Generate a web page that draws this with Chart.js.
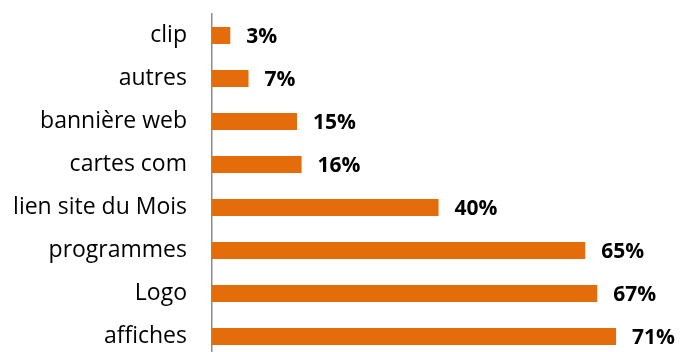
<!DOCTYPE html>
<html>
<head>
<meta charset="utf-8">
<script src="https://cdn.jsdelivr.net/npm/chart.js@4/dist/chart.umd.min.js"></script>
<style>
html,body{margin:0;padding:0;background:#fff;overflow:hidden;width:682px;height:352px;}
canvas{display:block;}
</style>
</head>
<body>
<canvas id="c" width="682" height="358" style="width:682px;height:358px;"></canvas>
<script>
const categories = ["clip", "autres", "bannière web", "cartes com", "lien site du Mois", "programmes", "Logo", "affiches"];
const values = [3.2, 6.4, 14.9, 15.7, 39.7, 65.4, 67.5, 70.8];
const valueLabels = ["3%", "7%", "15%", "16%", "40%", "65%", "67%", "71%"];

const labelPlugin = {
  id: 'valueLabels',
  afterDatasetsDraw(chart) {
    const ctx = chart.ctx;
    const meta = chart.getDatasetMeta(0);
    ctx.save();
    ctx.font = 'bold 21px "Open Sans"';
    ctx.fillStyle = '#000';
    ctx.textAlign = 'left';
    ctx.textBaseline = 'middle';
    meta.data.forEach((bar, i) => {
      ctx.fillText(valueLabels[i], bar.x + 16, bar.y + 2);
    });
    ctx.restore();
  }
};

new Chart(document.getElementById('c'), {
  type: 'bar',
  data: {
    labels: categories,
    datasets: [{
      data: values,
      backgroundColor: '#E46C0A',
      borderWidth: 0,
      categoryPercentage: 1,
      barPercentage: 0.395
    }]
  },
  options: {
    indexAxis: 'y',
    responsive: false,
    animation: false,
    layout: { padding: { top: 14, right: 2, left: 0, bottom: 0 } },
    plugins: { legend: { display: false }, tooltip: { enabled: false } },
    scales: {
      x: { display: false, min: 0, max: 82 },
      y: {
        afterFit(scale) { scale.paddingTop = 0; scale.paddingBottom = 0; scale.width = 212; },
        grid: { display: false, drawTicks: false },
        border: { display: true, color: '#8c8c8c', width: 1.5 },
        ticks: { color: '#000', font: { family: 'Open Sans', size: 23 }, padding: 25 }
      }
    }
  },
  plugins: [labelPlugin]
});
</script>
</body>
</html>
